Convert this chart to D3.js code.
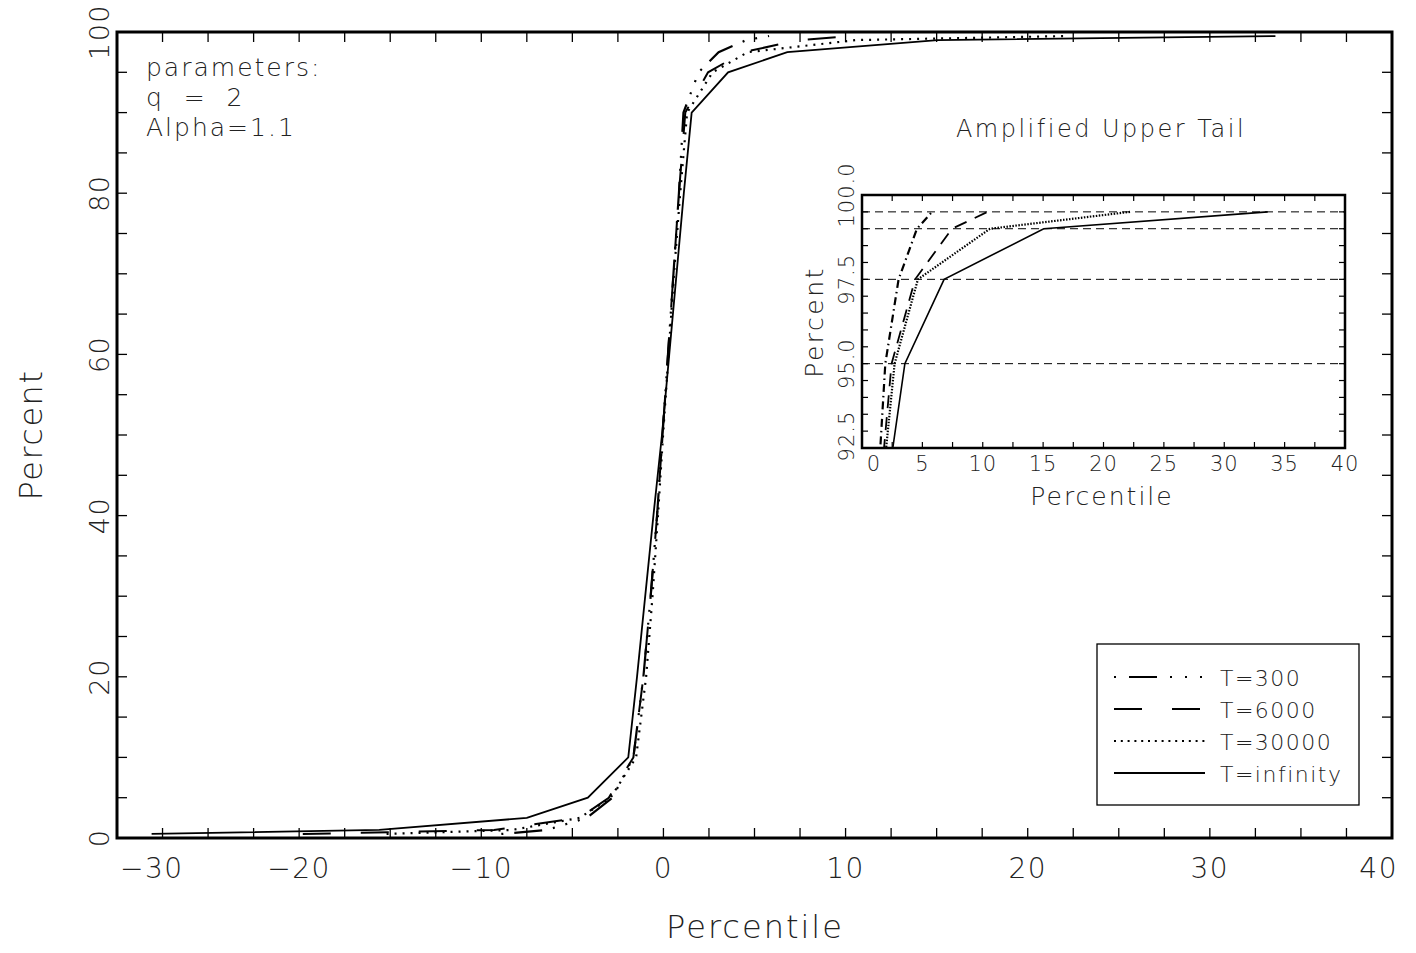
<!DOCTYPE html>
<html>
<head>
<meta charset="utf-8">
<script src="https://cdn.jsdelivr.net/npm/d3@7"></script>
<style>
  body { margin: 0; background: #fff; }
  svg text { font-family: 'DejaVu Sans', sans-serif; font-weight: 200; fill: #222; }
</style>
</head>
<body>
<div id="chart"></div>
<script>
// percent levels at which each series quantile is plotted
const levels = [0.5, 1, 2.5, 5, 10, 20, 30, 40, 50, 60, 70, 80, 90, 95, 97.5, 99, 99.5];

// percentile (x) per level
const t300 = [-8.9, -6.4, -4.2, -2.8, -1.65, -1.1, -0.7, -0.35, -0.05, 0.25, 0.55, 0.85, 1.1, 1.93, 3.03, 4.55, 5.8];
const t6000 = [-19.8, -9.3, -4.6, -3.0, -1.65, -1.1, -0.7, -0.35, -0.05, 0.25, 0.55, 0.85, 1.2, 2.45, 4.4, 7.45, 10.4];
const t30000 = [-15.2, -8.3, -4.6, -2.9, -1.5, -0.95, -0.6, -0.3, -0.02, 0.28, 0.58, 0.92, 1.3, 2.7, 4.63, 10.6, 22.2];
const tInf = [-28.1, -15.6, -7.5, -4.15, -1.93, -1.45, -1.0, -0.55, -0.08, 0.32, 0.72, 1.12, 1.55, 3.55, 6.8, 15.05, 33.6];

const seriesNames = ['T=300', 'T=6000', 'T=30000', 'T=infinity'];
const seriesValues = [t300, t6000, t30000, tInf];

const xTicksMain = [-30, -20, -10, 0, 10, 20, 30, 40];
const yTicksMain = [0, 20, 40, 60, 80, 100];
const xTicksInset = [0, 5, 10, 15, 20, 25, 30, 35, 40];
const yTicksInset = [92.5, 95.0, 97.5, 100.0];
const insetRefLines = [95, 97.5, 99, 99.5];

const paramLines = ['parameters:', 'q  =  2', 'Alpha=1.1'];

const W = 1416, H = 953;
const svg = d3.select('#chart').append('svg').attr('width', W).attr('height', H);

const fmtMinus = v => (v < 0 ? '\u2212' : '') + Math.abs(v);

// ---------- main plot ----------
const box = {l: 117, r: 1392, t: 32, b: 838};
const x = d3.scaleLinear().domain([-30, 40]).range([box.l, box.r]);
const y = d3.scaleLinear().domain([0, 100]).range([box.b, box.t]);

svg.append('clipPath').attr('id', 'clipMain')
  .append('rect').attr('x', box.l).attr('y', box.t).attr('width', box.r - box.l).attr('height', box.b - box.t);

const mainStyles = [
  {dash: '2,11,28,11,2,11,2,11', w: 2.2},
  {dash: '28,30', w: 2},
  {dash: '2,6', w: 2.2},
  {dash: null, w: 1.8}
];

const lineMain = d3.line().x(d => x(d[0])).y(d => y(d[1]));
const gLines = svg.append('g').attr('clip-path', 'url(#clipMain)');
seriesValues.forEach((vals, i) => {
  gLines.append('path')
    .attr('d', lineMain(vals.map((v, k) => [v, levels[k]])))
    .attr('fill', 'none').attr('stroke', '#000')
    .attr('stroke-width', mainStyles[i].w)
    .attr('stroke-dasharray', mainStyles[i].dash);
});

// ticks, inward on all four sides
const tk = 10;
const gT = svg.append('g').attr('stroke', '#000').attr('stroke-width', 1.3);
d3.range(-30, 40.01, 2.5).forEach(v => {
  gT.append('line').attr('x1', x(v)).attr('x2', x(v)).attr('y1', box.b).attr('y2', box.b - tk);
  gT.append('line').attr('x1', x(v)).attr('x2', x(v)).attr('y1', box.t).attr('y2', box.t + tk);
});
d3.range(0, 100.01, 5).forEach(v => {
  gT.append('line').attr('x1', box.l).attr('x2', box.l + tk).attr('y1', y(v)).attr('y2', y(v));
  gT.append('line').attr('x1', box.r).attr('x2', box.r - tk).attr('y1', y(v)).attr('y2', y(v));
});

svg.append('rect').attr('x', box.l).attr('y', box.t).attr('width', box.r - box.l).attr('height', box.b - box.t)
  .attr('fill', 'none').attr('stroke', '#000').attr('stroke-width', 3);

xTicksMain.forEach((v, i) => {
  let anchor = 'middle', px = x(v);
  if (i === 0) { anchor = 'start'; px = box.l + 3; }
  if (i === xTicksMain.length - 1) { anchor = 'end'; px = box.r + 6; }
  svg.append('text').attr('x', px).attr('y', 878).attr('text-anchor', anchor)
    .attr('font-size', 28).attr('letter-spacing', 1.5).text(fmtMinus(v));
});
yTicksMain.forEach(v => {
  svg.append('text').attr('transform', `translate(109,${y(v)}) rotate(-90)`)
    .attr('text-anchor', 'middle').attr('font-size', 27).attr('letter-spacing', 1.5).text(v);
});

svg.append('text').attr('x', 755).attr('y', 938).attr('text-anchor', 'middle')
  .attr('font-size', 32).attr('letter-spacing', 2).text('Percentile');
svg.append('text').attr('transform', 'translate(42,435) rotate(-90)').attr('text-anchor', 'middle')
  .attr('font-size', 32).attr('letter-spacing', 1.5).text('Percent');

paramLines.forEach((s, i) => {
  svg.append('text').attr('x', 146).attr('y', 76 + i * 30).attr('font-size', 25)
    .attr('letter-spacing', 2).attr('xml:space', 'preserve').style('white-space', 'pre').text(s);
});

// ---------- legend ----------
const lg = {l: 1097, r: 1359, t: 644, b: 805};
svg.append('rect').attr('x', lg.l).attr('y', lg.t).attr('width', lg.r - lg.l).attr('height', lg.b - lg.t)
  .attr('fill', '#fff').attr('stroke', '#000').attr('stroke-width', 1.3);
const legendDash = ['2,13,28,13,2,13,2,13', '28,30', '2,4.8', null];
seriesNames.forEach((name, i) => {
  const ry = 677 + i * 32;
  svg.append('line').attr('x1', 1114).attr('x2', 1205).attr('y1', ry).attr('y2', ry)
    .attr('stroke', '#000').attr('stroke-width', i === 2 ? 2 : 2)
    .attr('stroke-dasharray', legendDash[i]);
  svg.append('text').attr('x', 1220).attr('y', ry + 9).attr('font-size', 22)
    .attr('letter-spacing', 1.5).text(name);
});

// ---------- inset: amplified upper tail ----------
const ib = {l: 862, r: 1345, t: 195, b: 448};
const xi = d3.scaleLinear().domain([0, 40]).range([ib.l, ib.r]);
const yi = d3.scaleLinear().domain([92.5, 100]).range([ib.b, ib.t]);

svg.append('rect').attr('x', ib.l).attr('y', ib.t).attr('width', ib.r - ib.l).attr('height', ib.b - ib.t)
  .attr('fill', '#fff');

svg.append('clipPath').attr('id', 'clipInset')
  .append('rect').attr('x', ib.l).attr('y', ib.t).attr('width', ib.r - ib.l).attr('height', ib.b - ib.t);

const gRef = svg.append('g').attr('stroke', '#000').attr('stroke-width', 1).attr('stroke-dasharray', '8,5');
insetRefLines.forEach(v => {
  gRef.append('line').attr('x1', ib.l).attr('x2', ib.r).attr('y1', yi(v)).attr('y2', yi(v));
});

const insetStyles = [
  {dash: '1.5,4,8,4', w: 2.2},
  {dash: '13,9', w: 1.8},
  {dash: '1.5,1.5', w: 2.2},
  {dash: null, w: 1.6}
];
const lineInset = d3.line().x(d => xi(d[0])).y(d => yi(d[1]));
const gIn = svg.append('g').attr('clip-path', 'url(#clipInset)');
seriesValues.forEach((vals, i) => {
  const pts = vals.map((v, k) => [v, levels[k]]).filter(d => d[1] >= 80);
  gIn.append('path').attr('d', lineInset(pts))
    .attr('fill', 'none').attr('stroke', '#000')
    .attr('stroke-width', insetStyles[i].w)
    .attr('stroke-dasharray', insetStyles[i].dash);
});

const itk = 6;
const gIT = svg.append('g').attr('stroke', '#000').attr('stroke-width', 1.2);
d3.range(0, 40.01, 2.5).forEach(v => {
  gIT.append('line').attr('x1', xi(v)).attr('x2', xi(v)).attr('y1', ib.b).attr('y2', ib.b - itk);
  gIT.append('line').attr('x1', xi(v)).attr('x2', xi(v)).attr('y1', ib.t).attr('y2', ib.t + itk);
});
d3.range(92.5, 100.01, 0.5).forEach(v => {
  gIT.append('line').attr('x1', ib.l).attr('x2', ib.l + itk).attr('y1', yi(v)).attr('y2', yi(v));
  gIT.append('line').attr('x1', ib.r).attr('x2', ib.r - itk).attr('y1', yi(v)).attr('y2', yi(v));
});
svg.append('rect').attr('x', ib.l).attr('y', ib.t).attr('width', ib.r - ib.l).attr('height', ib.b - ib.t)
  .attr('fill', 'none').attr('stroke', '#000').attr('stroke-width', 2.5);

xTicksInset.forEach((v, i) => {
  const px = i === 0 ? xi(v) + 12 : xi(v);
  svg.append('text').attr('x', px).attr('y', 471).attr('text-anchor', 'middle')
    .attr('font-size', 21).attr('letter-spacing', 1).text(v);
});
yTicksInset.forEach((v, i) => {
  const py = i === 0 ? yi(v) - 12 : yi(v);
  svg.append('text').attr('transform', `translate(854,${py}) rotate(-90)`)
    .attr('text-anchor', 'middle').attr('font-size', 21).attr('letter-spacing', 1).text(v.toFixed(1));
});
svg.append('text').attr('x', 1102).attr('y', 505).attr('text-anchor', 'middle')
  .attr('font-size', 25).attr('letter-spacing', 2).text('Percentile');
svg.append('text').attr('transform', 'translate(823,322) rotate(-90)').attr('text-anchor', 'middle')
  .attr('font-size', 25).attr('letter-spacing', 2.5).text('Percent');
svg.append('text').attr('x', 1101).attr('y', 137).attr('text-anchor', 'middle')
  .attr('font-size', 24).attr('letter-spacing', 2.5).text('Amplified Upper Tail');
</script>
</body>
</html>
